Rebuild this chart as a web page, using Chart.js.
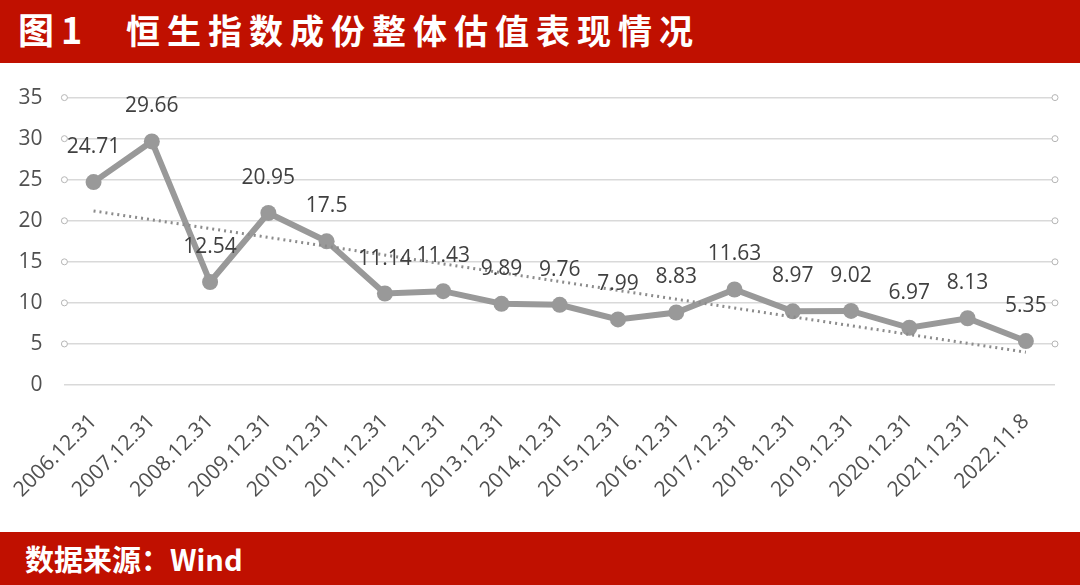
<!DOCTYPE html>
<html>
<head>
<meta charset="utf-8">
<script src="https://cdn.jsdelivr.net/npm/chart.js@4/dist/chart.umd.min.js"></script>
<style>
  html, body { margin: 0; padding: 0; background: #fff; width: 1080px; height: 585px; overflow: hidden; }
  .bar { background: #c01000; color: #fff; font-family: "Noto Sans CJK SC", sans-serif; font-weight: bold; position: absolute; left: 0; width: 1080px; }
  #titulo { top: 0; height: 63px; font-size: 34px; line-height: 56px; letter-spacing: 7px; }
  #titulo .num { display: inline-block; width: 108px; padding-left: 18px; font-size: 36px; }
  #fuente { top: 532px; height: 53px; font-size: 29px; line-height: 52px; padding-left: 25px; box-sizing: border-box; }
  #grafica { position: absolute; top: 63px; left: 0; width: 1080px; height: 469px; }
</style>
</head>
<body>
<div id="titulo" class="bar"><span class="num">图1</span>恒生指数成份整体估值表现情况</div>
<div id="grafica"><canvas id="chartPE"></canvas></div>
<div id="fuente" class="bar">数据来源：Wind</div>
<script>
// Fechas del eje X
const fechas = ['2006.12.31', '2007.12.31', '2008.12.31', '2009.12.31', '2010.12.31', '2011.12.31',
  '2012.12.31', '2013.12.31', '2014.12.31', '2015.12.31', '2016.12.31', '2017.12.31',
  '2018.12.31', '2019.12.31', '2020.12.31', '2021.12.31', '2022.11.8'];
// Valoración (PE) del índice Hang Seng
const valores = [24.71, 29.66, 12.54, 20.95, 17.5, 11.14, 11.43, 9.89, 9.76, 7.99, 8.83, 11.63, 8.97, 9.02, 6.97, 8.13, 5.35];
// Línea de tendencia: sólo los extremos
const tendencia = [21.2, null, null, null, null, null, null, null, null, null, null, null, null, null, null, null, 4.0];
const ticksY = [0, 5, 10, 15, 20, 25, 30, 35];

const gris = '#999999';

// Etiquetas de valor encima de cada punto
const etiquetas = {
  id: 'etiquetas',
  afterDatasetsDraw(chart) {
    const ctx = chart.ctx;
    const meta = chart.getDatasetMeta(0);
    ctx.save();
    ctx.font = '21px "Open Sans"';
    ctx.fillStyle = '#404040';
    ctx.textAlign = 'center';
    ctx.textBaseline = 'middle';
    meta.data.forEach((p, i) => {
      ctx.fillText(String(valores[i]), p.x, p.y - 35);
    });
    ctx.restore();
  }
};

// Circulitos al final de las líneas de la cuadrícula
const circulos = {
  id: 'circulos',
  afterDraw(chart) {
    const ctx = chart.ctx;
    const y = chart.scales.y;
    const area = chart.chartArea;
    ctx.save();
    ctx.strokeStyle = '#b5b5b5';
    ctx.fillStyle = '#fff';
    ctx.lineWidth = 1;
    ticksY.forEach(v => {
      if (v === 0) return;
      const py = y.getPixelForValue(v);
      [area.left, area.right].forEach(px => {
        ctx.beginPath();
        ctx.arc(px, py, 3, 0, Math.PI * 2);
        ctx.fill();
        ctx.stroke();
      });
    });
    ctx.restore();
  }
};

new Chart(document.getElementById('chartPE'), {
  type: 'line',
  data: {
    labels: fechas,
    datasets: [{
      data: valores,
      borderColor: gris,
      backgroundColor: gris,
      borderWidth: 6,
      pointRadius: 8,
      pointBackgroundColor: gris,
      pointBorderWidth: 0,
      tension: 0,
      order: 2
    }, {
      data: tendencia,
      borderColor: '#8c8c8c',
      borderWidth: 3,
      borderDash: [2, 4],
      pointRadius: 0,
      spanGaps: true,
      order: 1
    }]
  },
  options: {
    responsive: true,
    maintainAspectRatio: false,
    animation: false,
    layout: { padding: { top: 30, right: 25, left: 0, bottom: 0 } },
    plugins: { legend: { display: false }, tooltip: { enabled: false } },
    scales: {
      x: {
        offset: true,
        grid: { display: false },
        border: { display: false },
        ticks: {
          maxRotation: 45,
          minRotation: 45,
          autoSkip: false,
          padding: 16,
          color: '#505050',
          font: { family: 'Open Sans', size: 21 }
        },
        afterFit(scale) { scale.height = 147; }
      },
      y: {
        min: 0,
        max: 35,
        border: { display: false },
        grid: { color: '#d9d9d9', lineWidth: 1.5, drawTicks: false },
        ticks: {
          stepSize: 5,
          padding: 22,
          color: '#505050',
          font: { family: 'Open Sans', size: 21 }
        },
        afterFit(scale) { scale.width = 62; }
      }
    }
  },
  plugins: [etiquetas, circulos]
});
</script>
</body>
</html>
